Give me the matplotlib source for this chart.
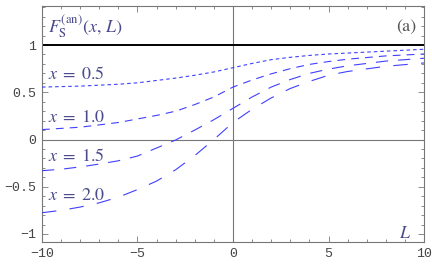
import numpy as np
import matplotlib
matplotlib.use('Agg')
import matplotlib.pyplot as plt
from matplotlib.ticker import MultipleLocator

plt.rcParams['mathtext.fontset'] = 'stix'

# F_S^(an)(x, L)
L_05 = [-10, -8, -6, -5, -4, -3, -2, -1, 0, 1, 2, 3, 4, 5, 6, 8, 10]
F_05 = [0.555, 0.565, 0.585, 0.60, 0.625, 0.65, 0.68, 0.715, 0.76, 0.805, 0.845, 0.87, 0.89, 0.905, 0.915, 0.935, 0.955]

L_10 = [-10, -8, -6, -4, -3, -2, -1, 0, 1, 2, 3, 4, 5, 6, 8, 10]
F_10 = [0.105, 0.13, 0.18, 0.255, 0.30, 0.37, 0.45, 0.555, 0.63, 0.695, 0.75, 0.795, 0.825, 0.85, 0.885, 0.905]

L_15 = [-10, -9, -8, -7, -6, -5, -4, -3, -2, -1, 0, 1, 2, 3, 4, 5, 6, 8, 10]
F_15 = [-0.33, -0.315, -0.29, -0.26, -0.225, -0.175, -0.09, -0.005, 0.10, 0.21, 0.33, 0.45, 0.555, 0.635, 0.70, 0.745, 0.78, 0.83, 0.86]

L_20 = [-10, -9, -8, -7, -6, -5, -4, -3, -2, -1, 0, 0.5, 1, 2, 3, 4, 5, 6, 8, 10]
F_20 = [-0.775, -0.75, -0.715, -0.67, -0.61, -0.53, -0.44, -0.32, -0.17, 0.0, 0.18, 0.25, 0.32, 0.44, 0.54, 0.615, 0.68, 0.72, 0.775, 0.81]

curves = [(L_05, F_05, '0.5', (3.2, 2.7), 0.636),
          (L_10, F_10, '1.0', (7, 5.5), 0.187),
          (L_15, F_15, '1.5', (11, 9), -0.227),
          (L_20, F_20, '2.0', (13, 12), -0.64)]

line_col = '#4040ff'
text_col = '#4a4a8c'

fig = plt.figure(figsize=(4.32, 2.67), dpi=100)
ax = fig.add_axes([0.0972, 0.0936, 0.8843, 0.8839])

ax.axhline(0, color='#777777', lw=0.8, zorder=1)
ax.axvline(0, color='#777777', lw=0.8, zorder=1)
ax.axhline(1, color='black', lw=1.4, zorder=2)

for L, F, xs, dash, ylab in curves:
    ax.plot(L, F, color=line_col, lw=0.8, dashes=dash, zorder=3)
    ax.text(-9.7, ylab, r'$x\;=\;%s$' % xs, color=text_col, fontsize=13, va='baseline', ha='left')

ax.text(-9.7, 1.127, r'$F_{\mathrm{S}}^{(\mathrm{an})}(x,\, L)$', color=text_col, fontsize=13, va='baseline', ha='left')
ax.text(9.6, 1.15, '(a)', color='#555555', fontsize=13, family='STIXGeneral', va='baseline', ha='right')
ax.text(9.35, -1.04, r'$L$', color=text_col, fontsize=13, va='baseline', ha='right')

ax.set_xlim(-10, 10)
ax.set_ylim(-1.085, 1.413)
ax.xaxis.set_minor_locator(MultipleLocator(1))
ax.yaxis.set_minor_locator(MultipleLocator(0.1))
ax.set_xticks([-10, -5, 0, 5, 10])
ax.set_xticklabels(['\u221210', '\u22125', '0', '5', '10'])
ax.set_yticks([-1, -0.5, 0, 0.5, 1])
ax.set_yticklabels(['\u22121', '\u22120.5', '0', '0.5', '1'])
ax.tick_params(which='both', direction='in', top=True, right=True, color='#777777', width=0.6)
ax.tick_params(which='major', length=4, labelsize=9.5, labelcolor='#444444', pad=4)
ax.tick_params(which='minor', length=2)
for lab in ax.get_xticklabels() + ax.get_yticklabels():
    lab.set_family(['Liberation Mono', 'DejaVu Sans Mono'])
for s in ax.spines.values():
    s.set_color('#777777')
    s.set_linewidth(0.8)

plt.savefig('out.png', dpi=100)
